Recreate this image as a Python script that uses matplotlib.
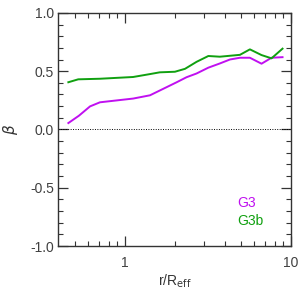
import matplotlib
matplotlib.use('Agg')
import matplotlib.pyplot as plt
from matplotlib.ticker import FixedLocator, NullFormatter, MultipleLocator
import numpy as np

plt.rcParams['font.family'] = ['Liberation Sans', 'DejaVu Sans']

# radius in units of R_eff, anisotropy beta
r_g3 = [0.456, 0.528, 0.616, 0.707, 1.12, 1.415, 2.05, 2.35, 2.70, 3.18, 3.73, 4.29, 4.93, 5.66, 6.65, 7.64, 8.9]
beta_g3 = [0.055, 0.118, 0.198, 0.233, 0.265, 0.293, 0.405, 0.448, 0.48, 0.53, 0.566, 0.60, 0.615, 0.615, 0.564, 0.615, 0.62]

r_g3b = [0.456, 0.523, 0.707, 1.12, 1.415, 1.62, 2.0, 2.3, 2.7, 3.18, 3.73, 4.93, 5.66, 6.65, 7.64, 8.9]
beta_g3b = [0.405, 0.43, 0.435, 0.45, 0.475, 0.49, 0.495, 0.52, 0.58, 0.63, 0.624, 0.64, 0.687, 0.638, 0.61, 0.693]

purple = '#c010f0'
green = '#10a010'

fig = plt.figure(figsize=(2.99, 2.99), dpi=100)
ax = fig.add_axes([0.194, 0.177, 0.779, 0.78])

ax.plot(r_g3, beta_g3, color=purple, lw=1.4)
ax.plot(r_g3b, beta_g3b, color=green, lw=1.4)
ax.axhline(0, color='black', lw=0.7, ls=(0, (1, 1.5)))

ax.set_xscale('log')
ax.set_xlim(0.395, 10)
ax.set_ylim(-1.0, 1.0)

ax.xaxis.set_major_locator(FixedLocator([1, 10]))
ax.xaxis.set_minor_locator(FixedLocator([0.5, 0.6, 0.7, 0.8, 0.9, 2, 3, 4, 5, 6, 7, 8, 9]))
ax.xaxis.set_minor_formatter(NullFormatter())
ax.set_xticklabels(['1', '10'])
ax.yaxis.set_major_locator(MultipleLocator(0.5))
ax.yaxis.set_minor_locator(MultipleLocator(0.1))
ax.yaxis.set_major_formatter(matplotlib.ticker.FormatStrFormatter('%.1f'))

ax.tick_params(which='both', direction='in', top=True, right=True, colors='#333333', labelsize=10)
ax.tick_params(which='both', labelcolor='#404040')
ax.tick_params(which='major', length=7, width=0.9)
ax.tick_params(which='minor', length=3.6, width=0.8)
ax.tick_params(axis='x', pad=7)
ax.tick_params(axis='y', pad=3)
for s in ax.spines.values():
    s.set_color('#333333')
    s.set_linewidth(1.0)

ax.set_xlabel(r'r/R$_{\rm eff}$', fontsize=10, labelpad=2, color='#333333')
ax.set_ylabel(r'$\beta$', fontsize=11, labelpad=7, color='#333333')

ax.text(0.77, 0.185, 'G3', color=purple, fontsize=10, transform=ax.transAxes, va='center')
ax.text(0.77, 0.107, 'G3b', color=green, fontsize=10, transform=ax.transAxes, va='center')

fig.savefig('out.png', dpi=100)
